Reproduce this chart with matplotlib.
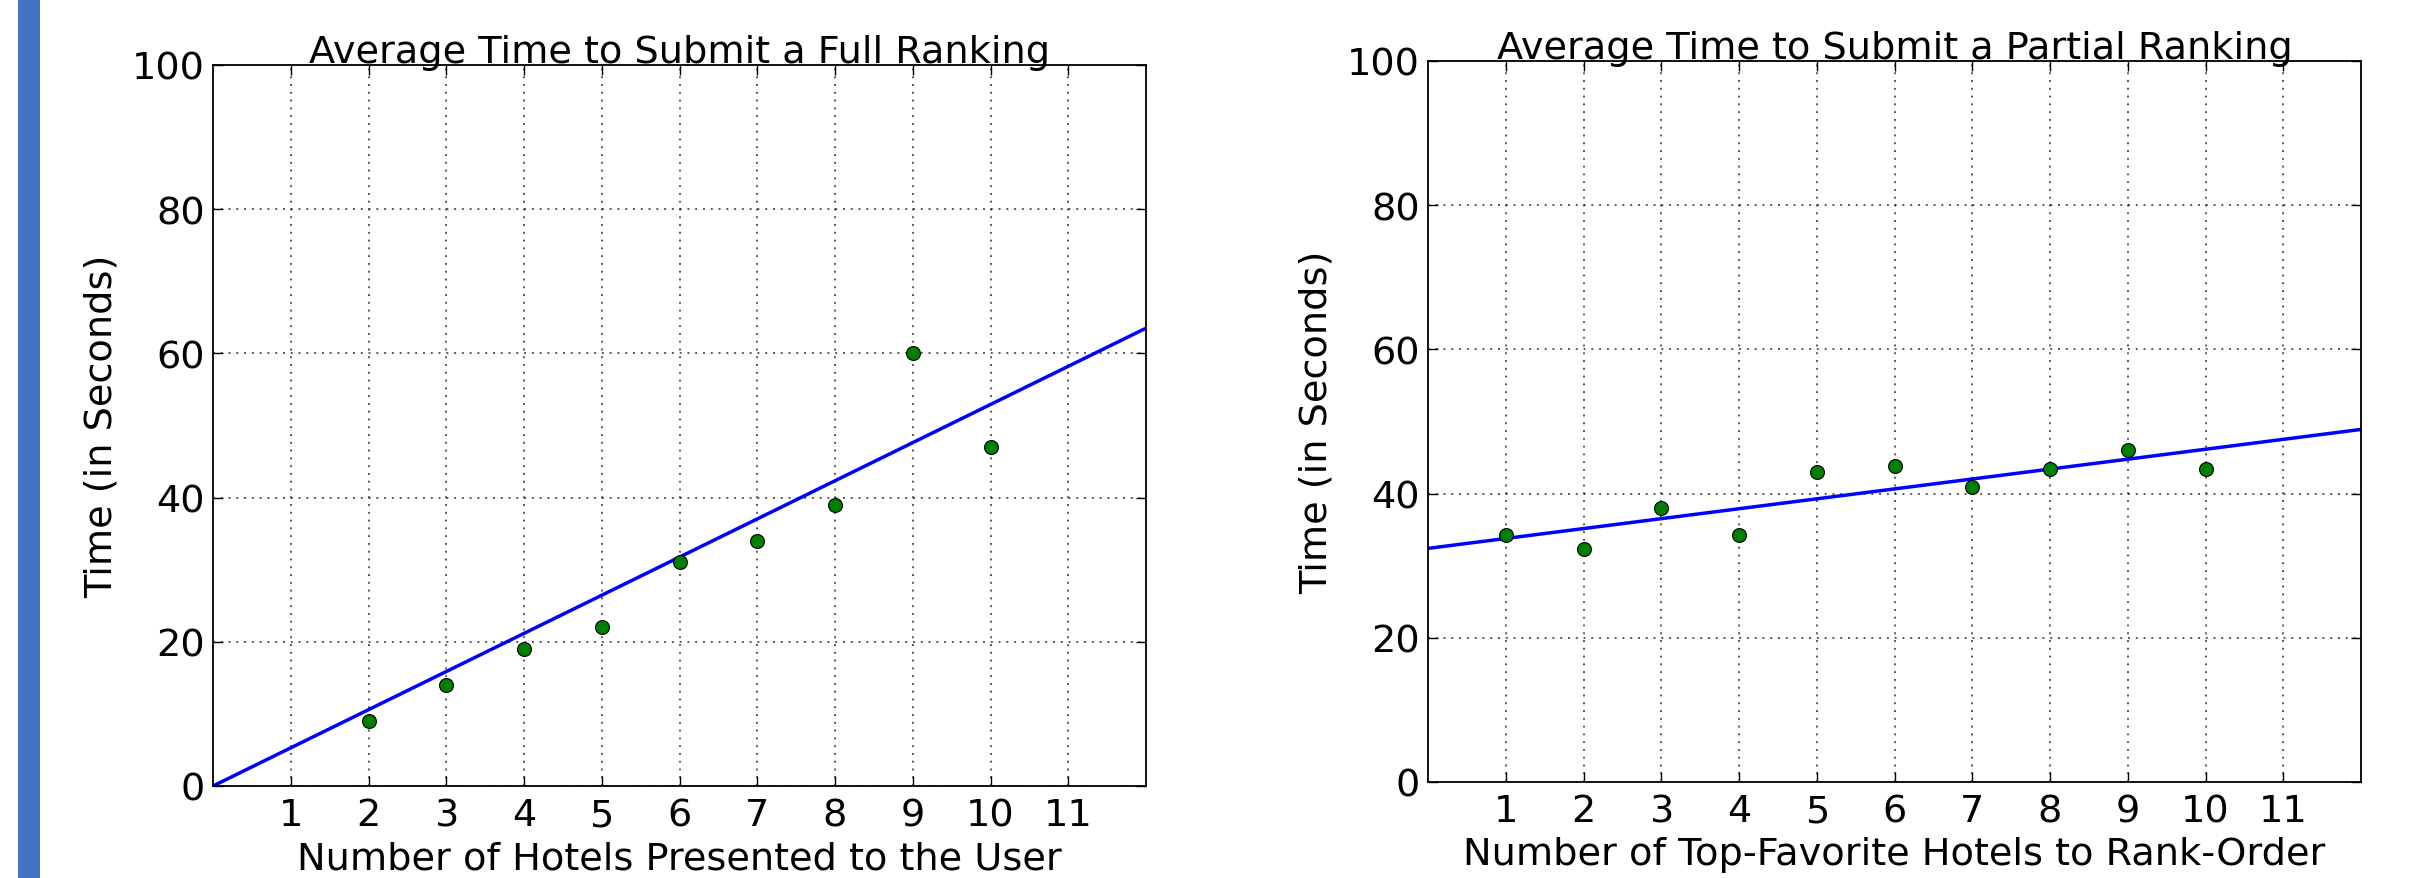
import matplotlib
matplotlib.use("Agg")
import matplotlib.pyplot as plt
from matplotlib.patches import Rectangle

# full ranking: number of hotels shown vs mean time (s)
full_x = [2, 3, 4, 5, 6, 7, 8, 9, 10]
full_y = [9, 14, 19, 22, 31, 34, 39, 60, 47]
full_fit_x = [0, 12]
full_fit_y = [0, 63.5]

# partial ranking: top-k to rank vs mean time (s)
part_x = [1, 2, 3, 4, 5, 6, 7, 8, 9, 10]
part_y = [34.2, 32.3, 38.0, 34.2, 43.0, 43.8, 40.9, 43.4, 46.1, 43.4]
part_fit_x = [0, 12]
part_fit_y = [32.4, 48.9]

xticks = list(range(1, 12))
yticks = [0, 20, 40, 60, 80, 100]

plt.rcParams['font.family'] = 'DejaVu Sans'
plt.rcParams['font.size'] = 27.5

fig = plt.figure(figsize=(24.13, 8.79), dpi=100)
fig.patch.set_facecolor('white')

# blue bar at the left edge
fig.patches.append(Rectangle((18 / 2413, 0), 22 / 2413, 1, transform=fig.transFigure,
                             facecolor='#4472C4', edgecolor='none'))

ax1 = fig.add_axes([213 / 2413, 92 / 879, 933 / 2413, 721 / 879])
ax2 = fig.add_axes([1428 / 2413, 96 / 879, 933 / 2413, 721 / 879])

panels = [
    (ax1, full_x, full_y, full_fit_x, full_fit_y,
     "Average Time to Submit a Full Ranking", "Number of Hotels Presented to the User"),
    (ax2, part_x, part_y, part_fit_x, part_fit_y,
     "Average Time to Submit a Partial Ranking", "Number of Top-Favorite Hotels to Rank-Order"),
]

for ax, xs, ys, fx, fy, title, xlabel in panels:
    ax.plot(fx, fy, color='#0000ff', linewidth=2.5, zorder=2)
    ax.plot(xs, ys, 'o', color='#008000', markeredgecolor='black', markeredgewidth=0.8,
            markersize=10, zorder=3)
    ax.set_xlim(0, 12)
    ax.set_ylim(0, 100)
    ax.set_xticks(xticks)
    ax.set_yticks(yticks)
    ax.grid(True, color='black', linestyle=(0, (1, 3)), linewidth=1.4, alpha=0.65)
    ax.tick_params(direction='in', top=True, right=True, length=7, width=1, labelsize=27.5)
    ax.tick_params(axis='x', pad=8)
    ax.tick_params(axis='y', pad=6)
    for s in ax.spines.values():
        s.set_linewidth(1.3)
    ax.set_title(title, fontsize=27.5, pad=2.5)
    ax.set_xlabel(xlabel, fontsize=27.5, labelpad=5)
    ax.set_ylabel("Time (in Seconds)", fontsize=27.5, labelpad=9)

fig.savefig("out.png", dpi=100, facecolor='white')
